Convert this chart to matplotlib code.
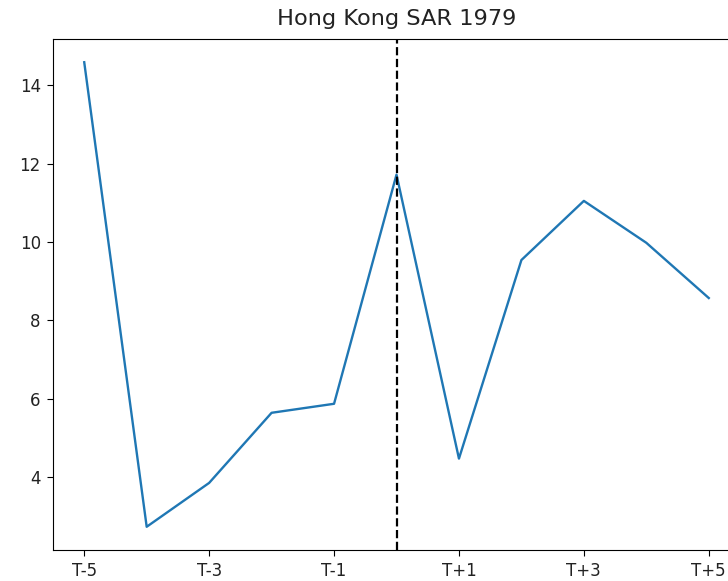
import matplotlib
matplotlib.use("Agg")
import matplotlib.pyplot as plt

# event window around the year of interest
offsets = [-5, -4, -3, -2, -1, 0, 1, 2, 3, 4, 5]
values = [14.59, 2.73, 3.85, 5.64, 5.87, 11.72, 4.47, 9.54, 11.05, 9.98, 8.57]
tick_pos = [-5, -3, -1, 1, 3, 5]
tick_labels = ["T-5", "T-3", "T-1", "T+1", "T+3", "T+5"]

fig = plt.figure(figsize=(7.28, 5.81), dpi=100)
# the right edge of the axes runs past the figure, as in the reference
ax = fig.add_axes([53/728, 31/581, 687/728, 511/581])

ax.plot(offsets, values, color="#1f77b4", linewidth=1.7)
ax.axvline(0, color="black", linestyle="--", linewidth=1.6)

ax.set_xticks(tick_pos)
ax.set_xticklabels(tick_labels)
ax.tick_params(labelsize=12, length=4.3, pad=4.5, labelcolor="#222222")
ax.set_title("Hong Kong SAR 1979", fontsize=16.2, color="#222222", pad=10)

plt.savefig("out.png", dpi=100)
plt.close()
